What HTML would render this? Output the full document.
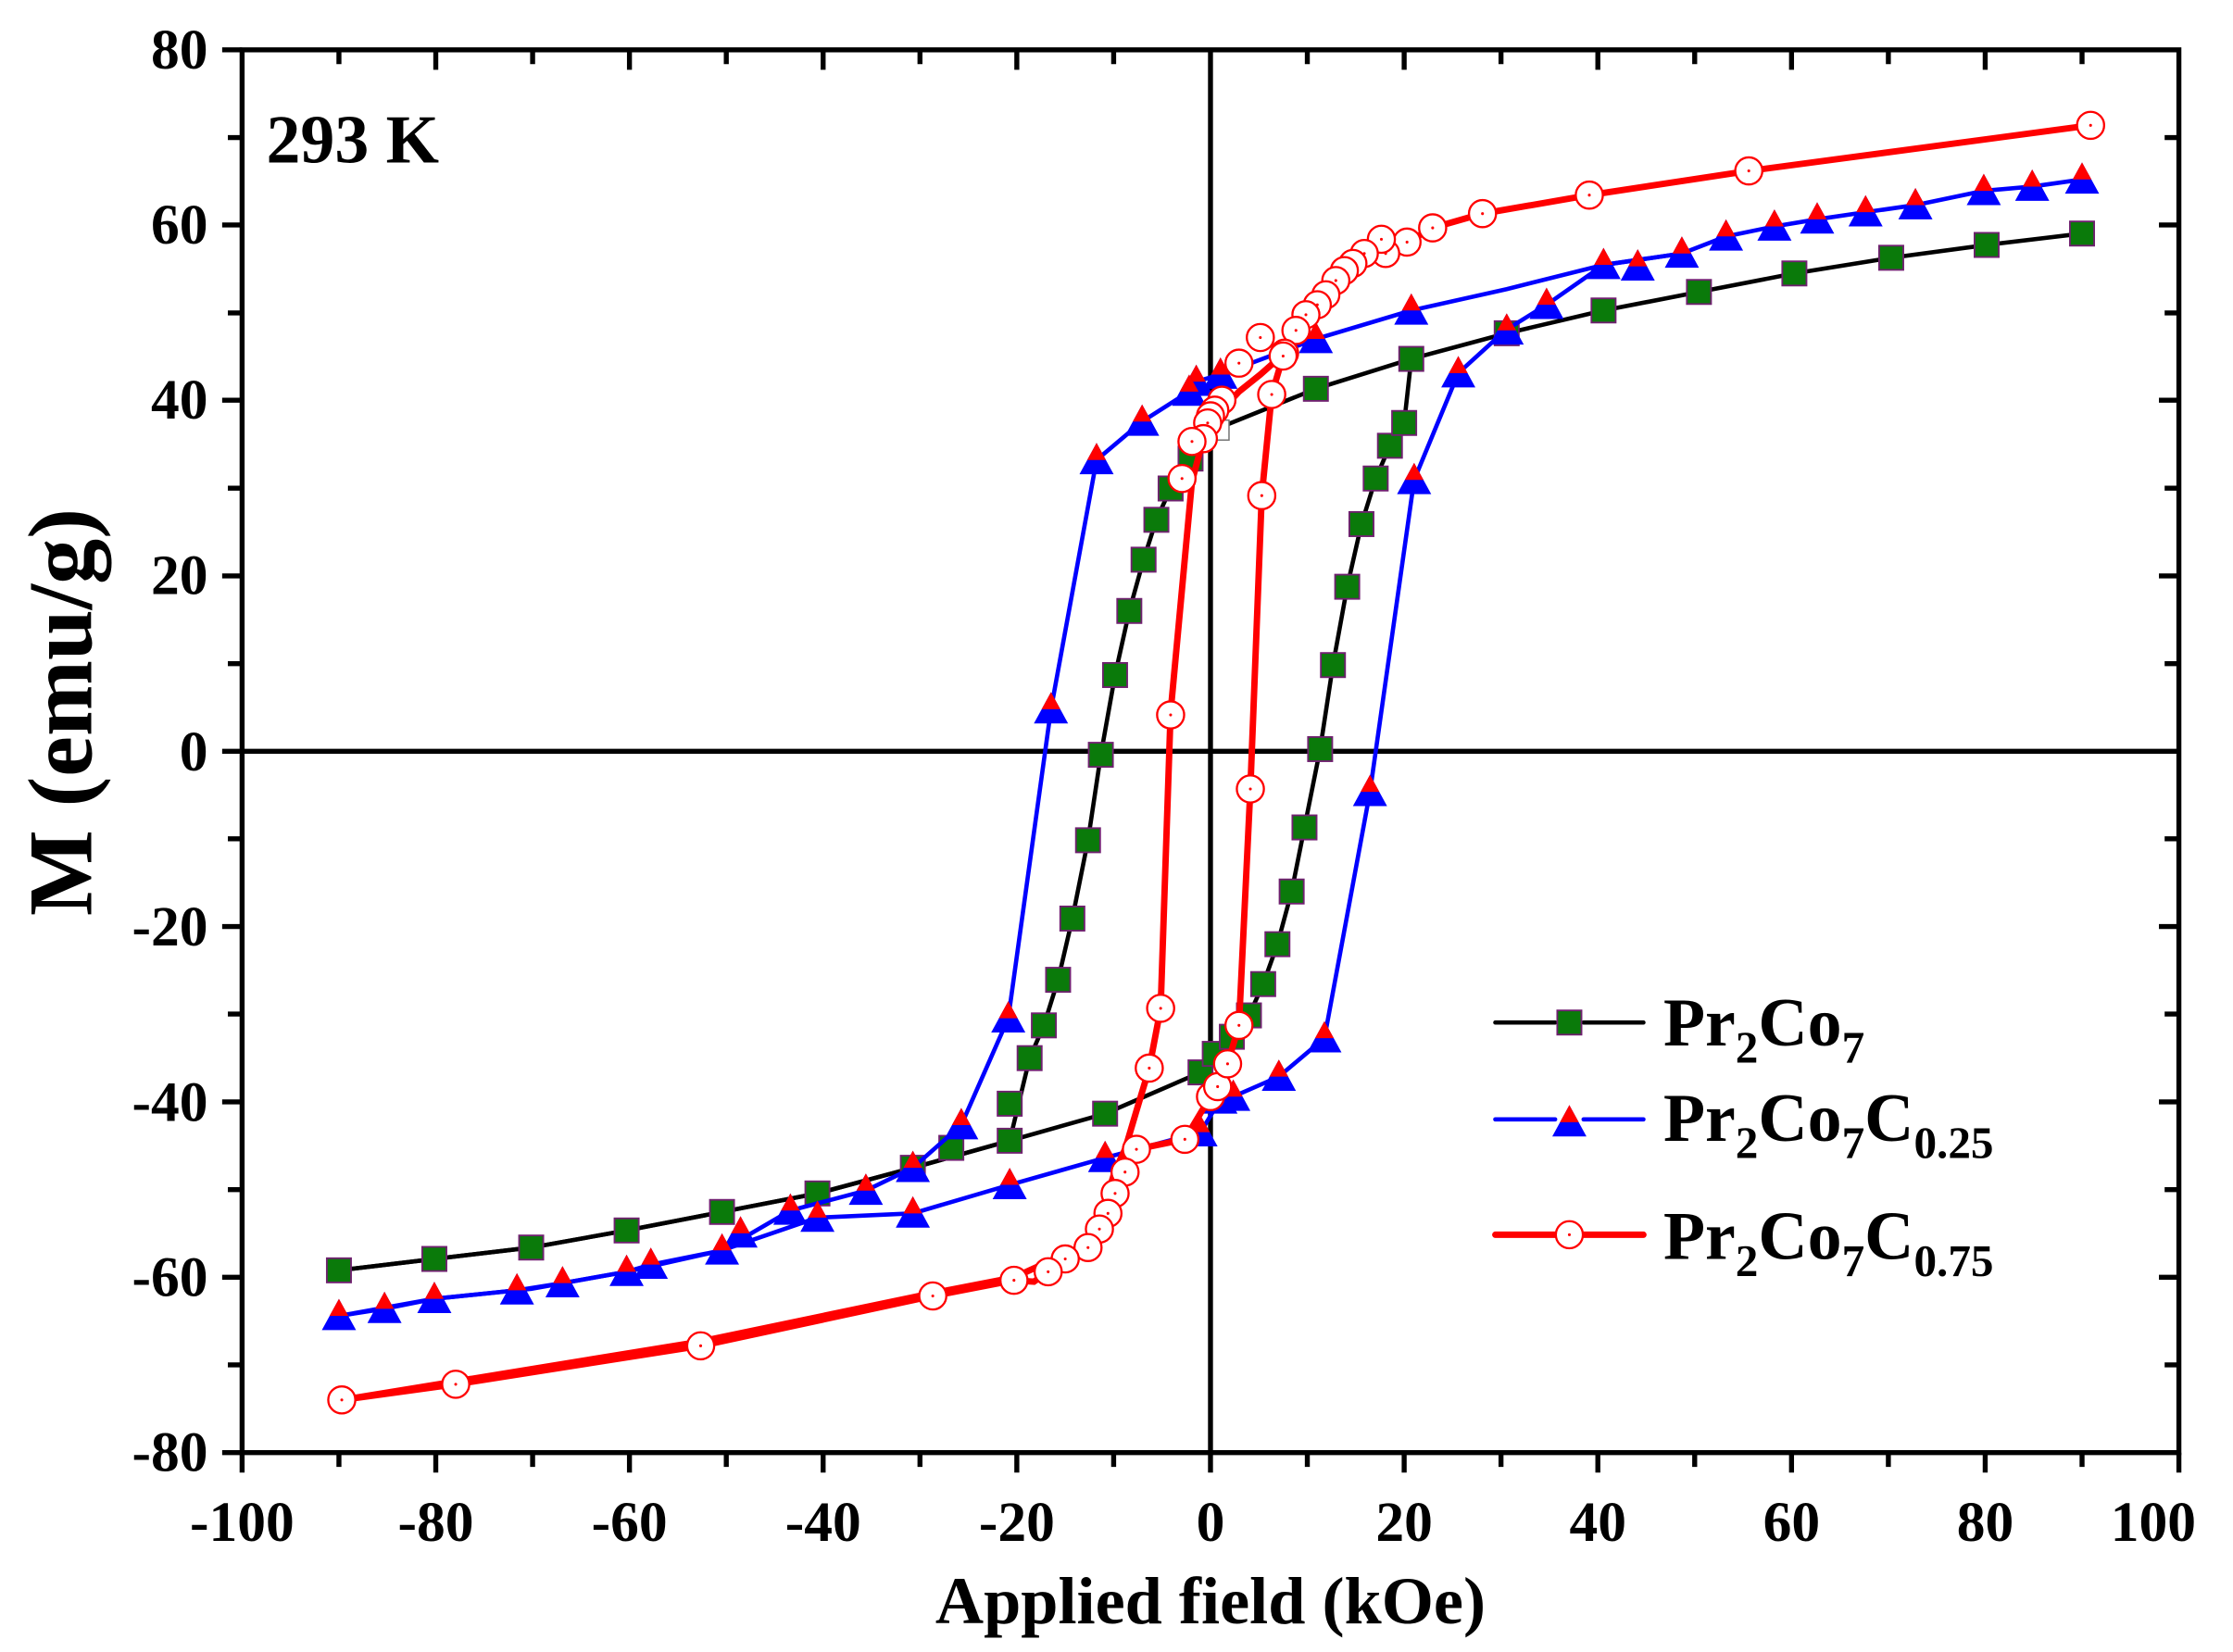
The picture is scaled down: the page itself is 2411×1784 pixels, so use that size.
<!DOCTYPE html>
<html><head><meta charset="utf-8"><style>html,body{margin:0;padding:0;background:#fff}svg{display:block}</style></head>
<body>
<svg width="2411" height="1784" viewBox="0 0 1568 1160" preserveAspectRatio="none" xmlns="http://www.w3.org/2000/svg" font-family="Liberation Serif, serif" font-weight="bold">
<defs>
<g id="sq"><rect x="-8.5" y="-8.5" width="17" height="17" fill="#0a7a0a" stroke="#702070" stroke-width="1.2"/></g>
<g id="tr"><polygon points="0,-12 12,10 -12,10" fill="#0000ff"/><polygon points="0,-12 6.6,0 -6.6,0" fill="#ff0000"/></g>
<g id="ci"><circle r="9.5" fill="#fff" stroke="#ff0000" stroke-width="1.5"/><circle r="1" fill="#f00"/></g>
</defs>
<rect width="1568" height="1160" fill="#fff"/>
<g stroke="#000" stroke-width="3.5" fill="none">
<rect x="170" y="35" width="1360" height="985"/>
<line x1="850" y1="35" x2="850" y2="1020"/>
<line x1="170" y1="527.5" x2="1530" y2="527.5"/>
</g>
<g stroke="#000" stroke-width="3.5">
<path d="M170 1020v14M306 1020v14M442 1020v14M578 1020v14M714 1020v14M850 1020v14M986 1020v14M1122 1020v14M1258 1020v14M1394 1020v14M1530 1020v14"/>
<path d="M238 1020v10M374 1020v10M510 1020v10M646 1020v10M782 1020v10M918 1020v10M1054 1020v10M1190 1020v10M1326 1020v10M1462 1020v10"/>
<path d="M306 35v14M442 35v14M578 35v14M714 35v14M986 35v14M1122 35v14M1258 35v14M1394 35v14"/>
<path d="M238 35v10M374 35v10M510 35v10M646 35v10M782 35v10M918 35v10M1054 35v10M1190 35v10M1326 35v10M1462 35v10"/>
<path d="M170 35h-14M170 158h-14M170 281h-14M170 404.4h-14M170 527.5h-14M170 650.6h-14M170 773.7h-14M170 896.9h-14M170 1020h-14"/>
<path d="M170 96.6h-10M170 219.7h-10M170 342.8h-10M170 466h-10M170 589h-10M170 712h-10M170 835.3h-10M170 958.4h-10"/>
<path d="M1530 158h-14M1530 281h-14M1530 404.4h-14M1530 650.6h-14M1530 773.7h-14M1530 896.9h-14"/>
<path d="M1530 96.6h-10M1530 219.7h-10M1530 342.8h-10M1530 466h-10M1530 589h-10M1530 712h-10M1530 835.3h-10M1530 958.4h-10"/>
</g>
<g font-size="40" text-anchor="end">
<text x="146" y="48">80</text><text x="146" y="171">60</text><text x="146" y="294">40</text><text x="146" y="417">20</text><text x="146" y="541">0</text><text x="146" y="664">-20</text><text x="146" y="787">-40</text><text x="146" y="910">-60</text><text x="146" y="1033">-80</text>
</g>
<g font-size="40" text-anchor="middle">
<text x="170" y="1082">-100</text><text x="306" y="1082">-80</text><text x="442" y="1082">-60</text><text x="578" y="1082">-40</text><text x="714" y="1082">-20</text><text x="850" y="1082">0</text><text x="986" y="1082">20</text><text x="1122" y="1082">40</text><text x="1258" y="1082">60</text><text x="1394" y="1082">80</text><text x="1512" y="1082">100</text>
</g>
<text x="850" y="1140" font-size="47" text-anchor="middle">Applied field (kOe)</text>
<text transform="translate(64,500) rotate(-90)" font-size="64" text-anchor="middle">M (emu/g)</text>
<text x="187" y="114" font-size="48">293 K</text>

<polyline fill="none" stroke="#000" stroke-width="3" points="1462,164 1395,172 1328,181 1260,192 1193,205 1126,218 1058,234 991,252 924,273 857,300 845,315 836,322 822,343 812,365 803,393 793,429 783,474 773,530 764,590 753,645 743,688 733,720 723,743 709,801 641,820 574,838 507,851 440,864 373,876 305,884 238,892"/>
<polyline fill="none" stroke="#000" stroke-width="3" points="238,892 305,884 373,876 440,864 507,851 574,838 641,820 709,801 776,782 843,753 853,740 865,728 877,713 887,691 897,663 907,626 916,581 927,526 936,467 946,412 956,368 966,336 976,313 986,297 991,252"/>
<g>
<use href="#sq" x="1462" y="164"/><use href="#sq" x="1395" y="172"/><use href="#sq" x="1328" y="181"/><use href="#sq" x="1260" y="192"/><use href="#sq" x="1193" y="205"/><use href="#sq" x="1126" y="218"/><use href="#sq" x="1058" y="234"/><use href="#sq" x="991" y="252"/><use href="#sq" x="924" y="273"/><use href="#sq" x="836" y="322"/><use href="#sq" x="822" y="343"/><use href="#sq" x="812" y="365"/><use href="#sq" x="803" y="393"/><use href="#sq" x="793" y="429"/><use href="#sq" x="783" y="474"/><use href="#sq" x="773" y="530"/><use href="#sq" x="764" y="590"/><use href="#sq" x="753" y="645"/><use href="#sq" x="743" y="688"/><use href="#sq" x="733" y="720"/><use href="#sq" x="723" y="743"/><use href="#sq" x="709" y="775"/><use href="#sq" x="709" y="801"/><use href="#sq" x="668" y="806"/><use href="#sq" x="641" y="820"/><use href="#sq" x="574" y="838"/><use href="#sq" x="507" y="851"/><use href="#sq" x="440" y="864"/><use href="#sq" x="373" y="876"/><use href="#sq" x="305" y="884"/><use href="#sq" x="238" y="892"/><use href="#sq" x="776" y="782"/><use href="#sq" x="843" y="753"/><use href="#sq" x="853" y="740"/><use href="#sq" x="865" y="728"/><use href="#sq" x="877" y="713"/><use href="#sq" x="887" y="691"/><use href="#sq" x="897" y="663"/><use href="#sq" x="907" y="626"/><use href="#sq" x="916" y="581"/><use href="#sq" x="927" y="526"/><use href="#sq" x="936" y="467"/><use href="#sq" x="946" y="412"/><use href="#sq" x="956" y="368"/><use href="#sq" x="966" y="336"/><use href="#sq" x="976" y="313"/><use href="#sq" x="986" y="297"/>
</g>
<rect x="849" y="295" width="14" height="14" fill="#fff" stroke="#777" stroke-width="1"/>

<polyline fill="none" stroke="#0000ff" stroke-width="3" points="1462,126 1427,131 1393,134 1345,144 1310,149 1276,154 1246,159 1212,166 1181,178 1126,186 1058,203 991,218 924,238 857,263 840,268 835,275 802,296 770,323 738,498 708,715 675,790 641,820 608,836 555,850 507,878 457,888 440,893 395,901 363,906 305,912 270,919 238,924"/>
<polyline fill="none" stroke="#0000ff" stroke-width="3" points="238,924 305,912 373,905 440,893 507,878 574,855 641,852 709,832 776,813 843,795 857,772 866,770 898,756 930,729 962,556 993,337 1024,262 1057,232 1086,214 1126,186 1181,178"/>
<g>
<use href="#tr" x="1462" y="126"/><use href="#tr" x="1427" y="131"/><use href="#tr" x="1393" y="134"/><use href="#tr" x="1345" y="144"/><use href="#tr" x="1310" y="149"/><use href="#tr" x="1276" y="154"/><use href="#tr" x="1246" y="159"/><use href="#tr" x="1212" y="166"/><use href="#tr" x="1181" y="178"/><use href="#tr" x="1126" y="186"/><use href="#tr" x="1150" y="187"/><use href="#tr" x="1086" y="214"/><use href="#tr" x="1058" y="232"/><use href="#tr" x="991" y="218"/><use href="#tr" x="924" y="238"/><use href="#tr" x="857" y="263"/><use href="#tr" x="840" y="268"/><use href="#tr" x="835" y="275"/><use href="#tr" x="802" y="296"/><use href="#tr" x="770" y="323"/><use href="#tr" x="738" y="498"/><use href="#tr" x="708" y="715"/><use href="#tr" x="675" y="790"/><use href="#tr" x="641" y="820"/><use href="#tr" x="608" y="836"/><use href="#tr" x="555" y="850"/><use href="#tr" x="520" y="866"/><use href="#tr" x="507" y="878"/><use href="#tr" x="457" y="888"/><use href="#tr" x="440" y="893"/><use href="#tr" x="395" y="901"/><use href="#tr" x="363" y="906"/><use href="#tr" x="305" y="912"/><use href="#tr" x="270" y="919"/><use href="#tr" x="238" y="924"/><use href="#tr" x="574" y="855"/><use href="#tr" x="641" y="852"/><use href="#tr" x="709" y="832"/><use href="#tr" x="776" y="813"/><use href="#tr" x="843" y="795"/><use href="#tr" x="857" y="772"/><use href="#tr" x="866" y="770"/><use href="#tr" x="898" y="756"/><use href="#tr" x="930" y="729"/><use href="#tr" x="962" y="556"/><use href="#tr" x="993" y="337"/><use href="#tr" x="1024" y="262"/>
</g>

<polyline fill="none" stroke="#ff0000" stroke-width="4.5" points="1468,88 1228,120 1116,137 1041,150 1006,160 988,170 973,168 958,178 950,185 944,190 938,197 931,207 925,214 917,221 910,232 902,248 885,263 870,275 858,288 853,290 850,298 848,303 845,308 837,338 822,500 815,708 807,750 798,780 790,807 783,822 778,838 772,852 768,863 758,876 748,884 736,893 726,900 712,899 655,910 492,945 320,972 240,983"/>
<polyline fill="none" stroke="#ff0000" stroke-width="4.5" points="240,983 320,970 492,942 655,908 712,897 758,876 790,830 798,807 832,800 850,770 855,765 862,747 870,720 878,554 886,348 893,277 901,250 910,234 917,221"/>
<g>
<use href="#ci" x="1468" y="88"/><use href="#ci" x="1228" y="120"/><use href="#ci" x="1116" y="137"/><use href="#ci" x="1041" y="150"/><use href="#ci" x="1006" y="160"/><use href="#ci" x="988" y="170"/><use href="#ci" x="973" y="178"/><use href="#ci" x="970" y="168"/><use href="#ci" x="958" y="178"/><use href="#ci" x="950" y="185"/><use href="#ci" x="944" y="190"/><use href="#ci" x="938" y="197"/><use href="#ci" x="931" y="207"/><use href="#ci" x="925" y="214"/><use href="#ci" x="917" y="221"/><use href="#ci" x="910" y="232"/><use href="#ci" x="902" y="248"/><use href="#ci" x="885" y="237"/><use href="#ci" x="870" y="255"/><use href="#ci" x="858" y="281"/><use href="#ci" x="853" y="288"/><use href="#ci" x="850" y="292"/><use href="#ci" x="848" y="297"/><use href="#ci" x="845" y="308"/><use href="#ci" x="837" y="310"/><use href="#ci" x="830" y="336"/><use href="#ci" x="822" y="502"/><use href="#ci" x="815" y="708"/><use href="#ci" x="807" y="750"/><use href="#ci" x="798" y="807"/><use href="#ci" x="790" y="823"/><use href="#ci" x="783" y="838"/><use href="#ci" x="778" y="852"/><use href="#ci" x="772" y="863"/><use href="#ci" x="764" y="876"/><use href="#ci" x="748" y="884"/><use href="#ci" x="736" y="893"/><use href="#ci" x="712" y="899"/><use href="#ci" x="655" y="910"/><use href="#ci" x="492" y="945"/><use href="#ci" x="320" y="972"/><use href="#ci" x="240" y="983"/><use href="#ci" x="832" y="800"/><use href="#ci" x="850" y="770"/><use href="#ci" x="855" y="763"/><use href="#ci" x="862" y="747"/><use href="#ci" x="870" y="720"/><use href="#ci" x="878" y="554"/><use href="#ci" x="886" y="348"/><use href="#ci" x="893" y="277"/><use href="#ci" x="901" y="250"/>
</g>

<g stroke-linecap="round">
<line x1="1050" y1="718" x2="1092" y2="718" stroke="#000" stroke-width="3"/><line x1="1112" y1="718" x2="1154" y2="718" stroke="#000" stroke-width="3"/>
<use href="#sq" x="1102" y="718"/>
<line x1="1050" y1="786" x2="1092" y2="786" stroke="#0000ff" stroke-width="3"/><line x1="1112" y1="786" x2="1154" y2="786" stroke="#0000ff" stroke-width="3"/>
<use href="#tr" x="1102" y="788"/>
<line x1="1050" y1="867" x2="1092" y2="867" stroke="#ff0000" stroke-width="4.5"/><line x1="1112" y1="867" x2="1154" y2="867" stroke="#ff0000" stroke-width="4.5"/>
<use href="#ci" x="1102" y="867"/>
</g>
<g font-size="48">
<text x="1168" y="734">Pr<tspan font-size="32" dy="12">2</tspan><tspan dy="-12">Co</tspan><tspan font-size="32" dy="12">7</tspan></text>
<text x="1168" y="801">Pr<tspan font-size="32" dy="12">2</tspan><tspan dy="-12">Co</tspan><tspan font-size="32" dy="12">7</tspan><tspan dy="-12">C</tspan><tspan font-size="32" dy="12">0.25</tspan></text>
<text x="1168" y="884">Pr<tspan font-size="32" dy="12">2</tspan><tspan dy="-12">Co</tspan><tspan font-size="32" dy="12">7</tspan><tspan dy="-12">C</tspan><tspan font-size="32" dy="12">0.75</tspan></text>
</g>
</svg>
</body></html>
